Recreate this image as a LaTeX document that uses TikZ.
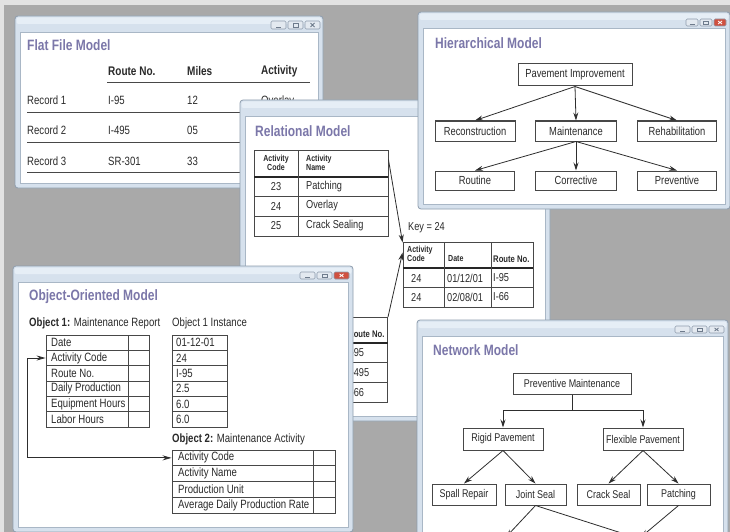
\documentclass[tikz,border=0pt]{standalone}
\usepackage{fontspec}
\setmainfont{Liberation Sans}[FakeStretch=0.8]
\usetikzlibrary{arrows.meta,calc}
\definecolor{bgc}{HTML}{A9A9A9}
\definecolor{edgec}{HTML}{E2E2E2}
\definecolor{framef}{HTML}{D6E1ED}
\definecolor{framehi}{HTML}{E6EEF6}
\definecolor{frameb}{HTML}{8E9DAE}
\definecolor{paneb}{HTML}{A9B7C6}
\definecolor{btnf}{HTML}{E3E9F0}
\definecolor{btnb}{HTML}{8F9CAD}
\definecolor{closer}{HTML}{D0503F}
\definecolor{iconc}{HTML}{6E7B8C}
\definecolor{ttlc}{HTML}{7B77A9}
\definecolor{inkc}{HTML}{2A2A2A}
\definecolor{linec}{HTML}{474747}
\definecolor{arrc}{HTML}{2E2E2E}
\newcommand\winbox[4]{%
  \draw[winframe] (#1,#2) rectangle (#3,#4);
  \fill[titlehi] (#1+1.5,#2+1.5) rectangle (#3-1.5,#2+8);
  \draw[winpane] (#1+5,#2+16) rectangle (#3-5,#4-5);
}
\newcommand\winbtns[6]{%
  \draw[btn] (#1,#2) rectangle ++(#3,#4);
  \draw[btn] (#1+#3+2,#2) rectangle ++(#3,#4);
  \draw[btn,fill=#5] (#1+2*#3+4,#2) rectangle ++(#3,#4);
  \draw[draw=iconc, line width=0.8] (#1+#3/2-2.5,#2+#4-2) -- ++(5,0);
  \draw[draw=iconc, line width=0.6] (#1+1.5*#3+2-2.5,#2+2) rectangle ++(5,#4-4);
  \draw[draw=#6, line width=0.8] (#1+2.5*#3+4-2,#2+2) -- ++(4,#4-4) (#1+2.5*#3+4+2,#2+2) -- ++(-4,#4-4);
}
\begin{document}
\begin{tikzpicture}[x=1pt,y=-1pt,
  winframe/.style={draw=frameb, fill=framef, line width=0.8, rounded corners=3},
  titlehi/.style={fill=framehi, rounded corners=2},
  winpane/.style={draw=paneb, fill=white, line width=0.7},
  btn/.style={draw=btnb, fill=btnf, line width=0.6, rounded corners=1.2},
  txt/.style={inner sep=0, anchor=west, text=inkc, font=\fontsize{11.5}{13}\selectfont},
  ctxt/.style={txt, anchor=center},
  fftxt/.style={txt, font=\fontsize{12}{14}\selectfont},
  ootxt/.style={txt, font=\fontsize{12}{14}\selectfont},
  ttl/.style={inner sep=0, anchor=west, text=ttlc, font=\bfseries\fontsize{15}{17}\selectfont},
  hdr/.style={inner sep=0, anchor=west, text=inkc, font=\bfseries\fontsize{12.5}{15}\selectfont},
  smallhdr/.style={inner sep=0, text=inkc, font=\bfseries\fontsize{8.8}{9}\selectfont},
  tline/.style={draw=linec, line width=0.9},
  thk/.style={draw=black!85, line width=2.6},
  tbl/.style={draw=linec, line width=0.9, inner sep=0, fill=white},
  hbox/.style={draw=linec, line width=1, fill=white, inner sep=0, text=inkc, font=\fontsize{11.7}{13}\selectfont},
  nbox/.style={hbox, font=\fontsize{11.2}{13}\selectfont},
  arr/.style={draw=arrc, line width=0.8, -{Stealth[length=8pt,width=5pt]}},
  arr2/.style={draw=arrc, line width=0.8, {Stealth[length=9pt,width=5pt]}-{Stealth[length=9pt,width=5pt]}}
]
\useasboundingbox (0,0) rectangle (730,532);
\clip (0,0) rectangle (730,532);
\fill[edgec] (0,0) rectangle (730,532);
\fill[bgc] (4,5) rectangle (730,532);

% ---------------- Flat File Model ----------------
\winbox{15}{16}{323}{188}
\winbtns{271}{21}{15}{8}{btnf}{iconc}
\node[ttl] (fftitle) at (27,45) {Flat File Model};
\node[hdr] (ffh1) at (108,71) {Route No.};
\node[hdr] (ffh2) at (187,71) {Miles};
\node[hdr] (ffh3) at (261,71) {Activity};
\draw[tline] (107,82) -- (310,82);
\node[fftxt] (ffr1) at (27,100) {Record 1};
\node[fftxt] (ffr1a) at (108,100) {I-95};
\node[fftxt] (ffr1b) at (187,100) {12};
\node[fftxt] (ffr1c) at (261,101) {Overlay};
\draw[tline] (27,112) -- (310,112);
\node[fftxt] (ffr2) at (27,130) {Record 2};
\node[fftxt] (ffr2a) at (108,130) {I-495};
\node[fftxt] (ffr2b) at (187,130) {05};
\draw[tline] (27,142) -- (310,142);
\node[fftxt] (ffr3) at (27,161) {Record 3};
\node[fftxt] (ffr3a) at (108,161) {SR-301};
\node[fftxt] (ffr3b) at (187,161) {33};
\draw[tline] (27,172) -- (310,172);

% ---------------- Relational Model ----------------
\winbox{240}{100}{550}{421}
\node[ttl] (rmtitle) at (255,131) {Relational Model};
% table 1
\node[tbl, minimum width=134, minimum height=86] (t1) at (321,193) {};
\draw[thk] (254,177) -- (388,177);
\draw[tline] (254,196) -- (388,196) (254,216) -- (388,216) (298,150) -- (298,236);
\node[smallhdr, align=center] (t1h1) at (276,163) {Activity\\Code};
\node[smallhdr, align=left, anchor=west] (t1h2) at (306,163) {Activity\\Name};
\node[ctxt] (t1a1) at (276,187) {23};
\node[txt] (t1b1) at (306,187) {Patching};
\node[ctxt] (t1a2) at (276,206) {24};
\node[txt] (t1b2) at (306,206) {Overlay};
\node[ctxt] (t1a3) at (276,226) {25};
\node[txt] (t1b3) at (306,226) {Crack Sealing};
% key
\node[txt] (key) at (408,228) {Key = 24};
% table 2
\node[tbl, minimum width=130, minimum height=65] (t2) at (468,274.5) {};
\draw[thk] (403,268) -- (533,268);
\draw[tline] (403,287) -- (533,287) (444,242) -- (444,307) (491,242) -- (491,307);
\node[smallhdr, align=left, anchor=west] (t2h1) at (407,254) {Activity\\Code};
\node[smallhdr, anchor=west] (t2h2) at (448,259) {Date};
\node[smallhdr, anchor=west, font=\bfseries\fontsize{9.6}{10}\selectfont] (t2h3) at (493,259) {Route No.};
\node[txt] (t2a1) at (411,278) {24};
\node[txt] (t2b1) at (447,278) {01/12/01};
\node[txt] (t2c1) at (493,278) {I-95};
\node[txt] (t2a2) at (411,297) {24};
\node[txt] (t2b2) at (447,297) {02/08/01};
\node[txt] (t2c2) at (493,297) {I-66};
% table 3 (partly hidden)
\node[tbl, minimum width=80, minimum height=85, anchor=north east] (t3) at (388,317) {};
\draw[thk] (308,343) -- (388,343);
\draw[tline] (308,362) -- (388,362) (308,382) -- (388,382);
\node[smallhdr, anchor=west, font=\bfseries\fontsize{9.6}{10}\selectfont] (t3h) at (348,334) {Route No.};
\node[txt] (t3c1) at (348,353) {I-95};
\node[txt] (t3c2) at (348,373) {I-495};
\node[txt] (t3c3) at (348,393) {I-66};
% key arrows
\draw[arr] ($(t1.north east)+(0,10)$) -- ($(t2.north west)+(0,1)$);
\draw[arr] (t3.north east) -- ($(t2.north west)+(0,11)$);

% ---------------- Hierarchical Model ----------------
\winbox{418}{12}{730}{209}
\winbtns{686}{19}{12}{7}{closer}{white}
\node[ttl] (hmtitle) at (435,43) {Hierarchical Model};
\node[hbox, minimum width=114, minimum height=22] (pi) at (575,75) {Pavement Improvement};
\node[hbox, minimum width=80, minimum height=20] (rc) at (475,131) {Reconstruction};
\node[hbox, minimum width=81, minimum height=20] (mt) at (576,131) {Maintenance};
\node[hbox, minimum width=79, minimum height=20] (rh) at (677,131) {Rehabilitation};
\node[hbox, minimum width=79, minimum height=19] (ro) at (475,180.5) {Routine};
\node[hbox, minimum width=81, minimum height=19] (co) at (576,180.5) {Corrective};
\node[hbox, minimum width=79, minimum height=19] (pv) at (677,180.5) {Preventive};
\draw[arr] (pi.south) -- (rc.north);
\draw[arr] (pi.south) -- (mt.north);
\draw[arr] (pi.south) -- (rh.north);
\draw[arr] (mt.south) -- (ro.north);
\draw[arr] (mt.south) -- (co.north);
\draw[arr] (mt.south) -- (pv.north);

% ---------------- Object-Oriented Model ----------------
\winbox{13}{266}{353}{532}
\winbtns{300}{272}{15}{7}{closer}{white}
\node[ttl] (ootitle) at (29,297) {Object-Oriented Model};
\node[ootxt] (obj1) at (29,323) {\textbf{Object 1:} Maintenance Report};
\node[ootxt] (obj1i) at (172,323) {Object 1 Instance};
\node[tbl, minimum width=103, minimum height=92] (o1) at (97.5,381) {};
\node[tbl, minimum width=55, minimum height=92] (oi) at (199.5,381) {};
\foreach \yy in {350.33,365.67,381,396.33,411.67} {
  \draw[tline] (46,\yy) -- (149,\yy) (172,\yy) -- (227,\yy);
}
\draw[tline] (128,335) -- (128,427);
\foreach \t [count=\i] in {Date,Activity Code,Route No.,Daily Production,Equipment Hours,Labor Hours} {
  \node[ootxt] (oa\i) at (51,335+15.333*\i-7.667) {\t};
}
\foreach \t [count=\i] in {01-12-01,24,I-95,2.5,6.0,6.0} {
  \node[ootxt] (ov\i) at (176,335+15.333*\i-7.667) {\t};
}
\node[ootxt] (obj2) at (172,439) {\textbf{Object 2:} Maintenance Activity};
\node[tbl, minimum width=163, minimum height=63] (o2) at (253.5,481.5) {};
\draw[tline] (172,465.75) -- (335,465.75) (172,481.5) -- (335,481.5) (172,497.25) -- (335,497.25) (313,450) -- (313,513);
\foreach \t [count=\i] in {Activity Code,Activity Name,Production Unit,Average Daily Production Rate} {
  \node[ootxt] (ob\i) at (178,450+15.75*\i-7.875) {\t};
}
\draw[arr2] (o1.west |- oa2) -- ++(-18,0) |- (o2.west |- ob1);

% ---------------- Network Model ----------------
\winbox{417}{320}{728}{545}
\winbtns{675}{326}{15}{7}{btnf}{iconc}
\node[ttl] (nmtitle) at (433,350) {Network Model};
\node[nbox, minimum width=118, minimum height=21] (pm) at (572,383.5) {Preventive Maintenance};
\node[nbox, minimum width=80, minimum height=22] (rp) at (503,439) {Rigid Pavement};
\node[nbox, minimum width=80, minimum height=22] (fp) at (643,439) {Flexible Pavement};
\node[nbox, minimum width=64, minimum height=21] (sr) at (464,494.5) {Spall Repair};
\node[nbox, minimum width=61, minimum height=21] (js) at (535.5,494.5) {Joint Seal};
\node[nbox, minimum width=63, minimum height=21] (cs) at (608.5,494.5) {Crack Seal};
\node[nbox, minimum width=63, minimum height=21] (pa) at (678.5,494.5) {Patching};
\coordinate (sub1) at (506,537);
\coordinate (sub2a) at (634,537);
\coordinate (sub2b) at (641,537);
\draw[arr] (pm.south) -- ++(0,16) -| (rp.north);
\draw[arr] (pm.south) -- ++(0,16) -| (fp.north);
\draw[arr] (rp.south) -- (sr.north);
\draw[arr] (rp.south) -- (js.north);
\draw[arr] (fp.south) -- (cs.north);
\draw[arr] (fp.south) -- (pa.north);
\draw[arr] (js.south) -- (sub1);
\draw[arr] (js.south) -- (sub2a);
\draw[arr] (pa.south) -- (sub2b);
\end{tikzpicture}
\end{document}
